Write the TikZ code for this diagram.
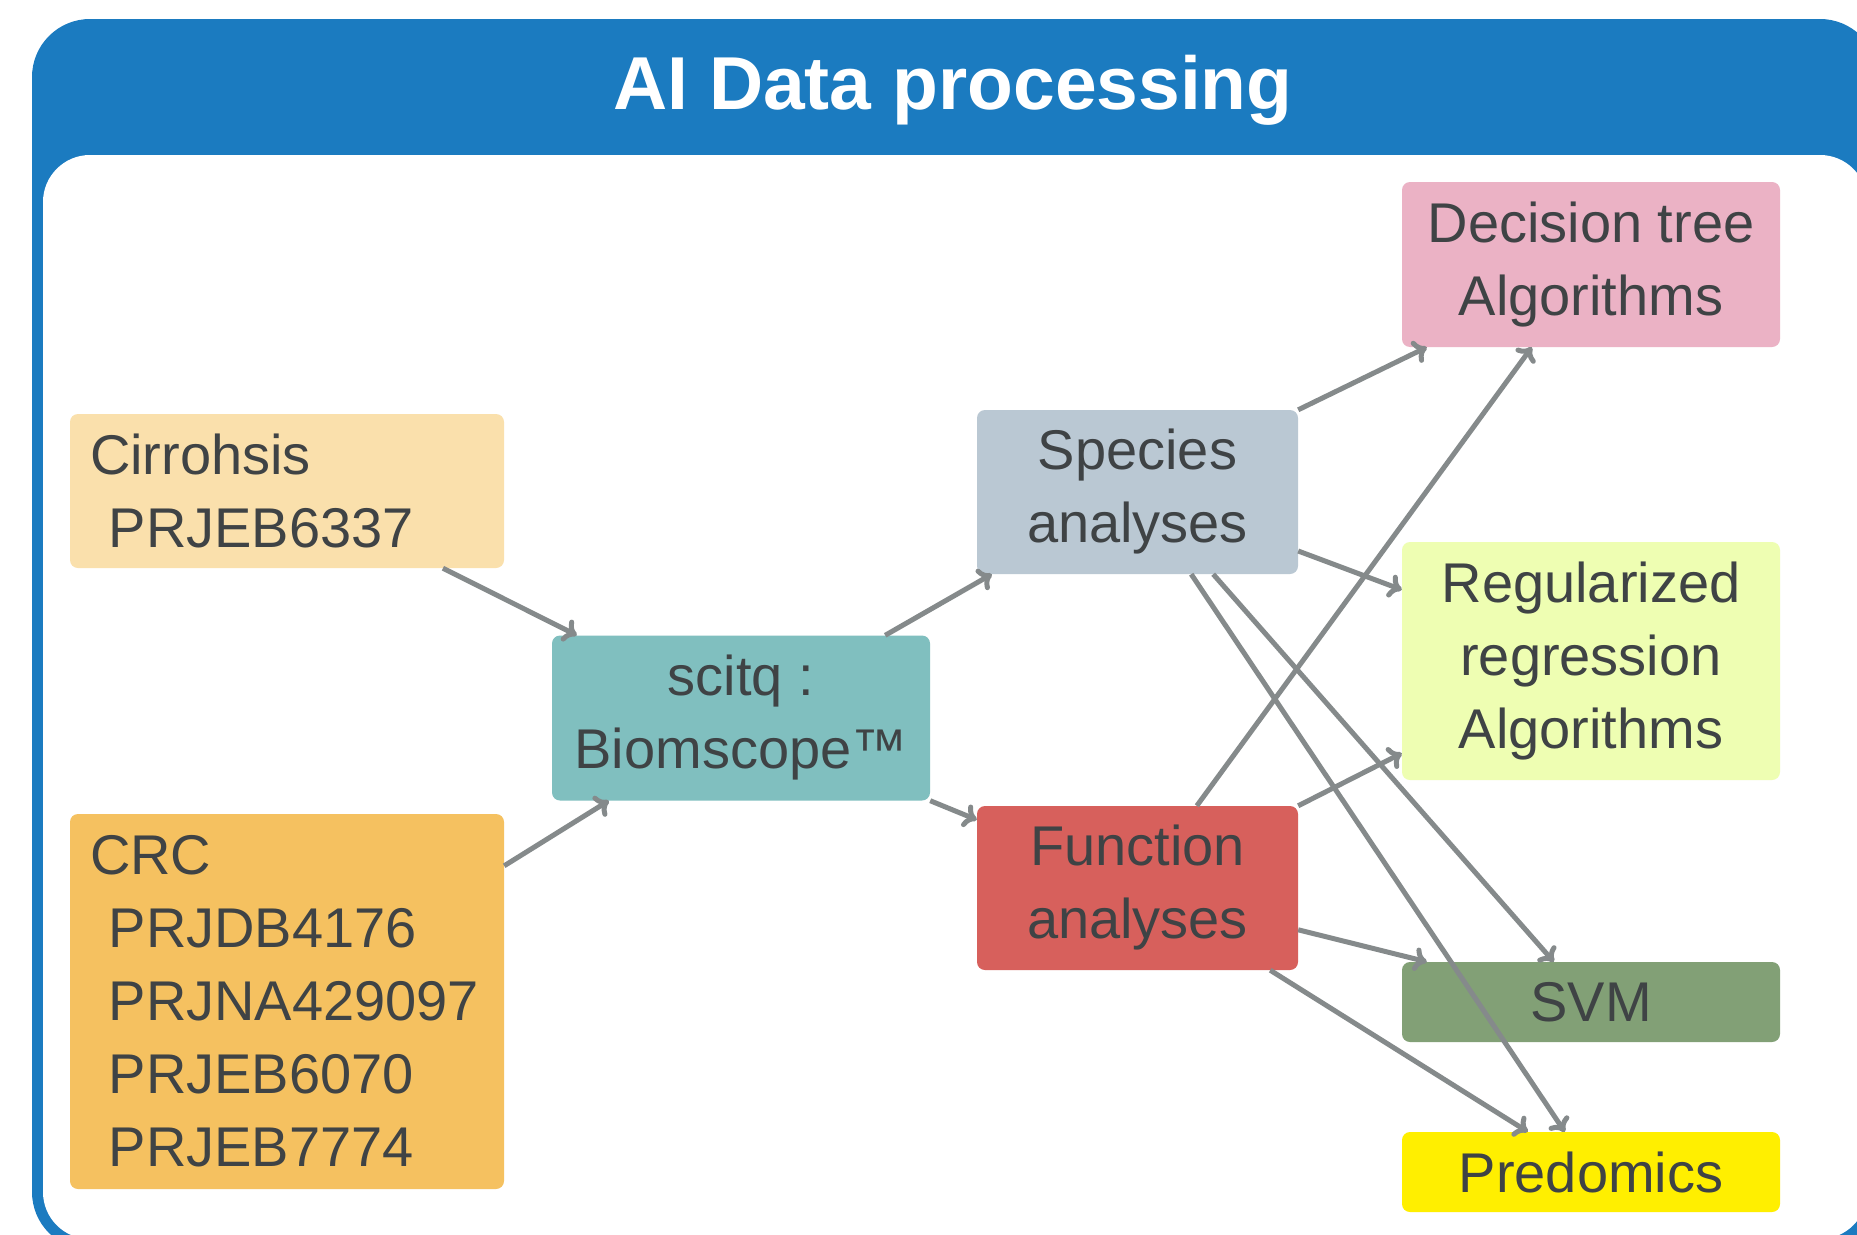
\documentclass[tikz,border=0pt]{standalone}
\usepackage{fontspec}
\setmainfont{Liberation Sans}
\usetikzlibrary{arrows.meta,calc}
\definecolor{frameblue}{HTML}{1B7BC0}
\definecolor{txtgray}{HTML}{3F4345}
\definecolor{arrgray}{HTML}{858A8B}
\definecolor{cirfill}{HTML}{FAE0AC}
\definecolor{crcfill}{HTML}{F5C160}
\definecolor{scifill}{HTML}{80BFBF}
\definecolor{spfill}{HTML}{BAC8D3}
\definecolor{fnfill}{HTML}{D7605C}
\definecolor{dtfill}{HTML}{EBB2C5}
\definecolor{rrfill}{HTML}{EEFEB2}
\definecolor{svmfill}{HTML}{82A076}
\definecolor{pdfill}{HTML}{FFEF00}
\tikzset{
  box/.style={rounded corners=8pt, inner sep=0pt, text=txtgray,
    font=\fontsize{56}{73}\selectfont, align=center},
  leftbox/.style={box, align=left, text width=394pt, inner xsep=20pt, minimum width=434pt},
  conn/.style={draw=arrgray, line width=5pt, -{To[length=13pt,width=24pt]}},
}
\begin{document}
\begin{tikzpicture}[x=1pt,y=-1pt]
\useasboundingbox (0,0) rectangle (1857,1234);
\begin{scope}
\clip (0,0) rectangle (1857,1234);
\fill[white] (0,0) rectangle (1857,1234);
\fill[frameblue, rounded corners=58pt] (32,19) rectangle (1878,1250);
\fill[white, rounded corners=47pt] (43,155) rectangle (1867,1239);
\end{scope}
\node[anchor=base, text=white, font=\fontsize{75}{90}\selectfont\bfseries] (title) at (953,109) {AI Data processing};

\node[leftbox, fill=cirfill, minimum height=154pt] (cir) at (287,491) {Cirrohsis\\~PRJEB6337};
\node[leftbox, fill=crcfill, minimum height=375pt] (crc) at (287,1001.5) {CRC\\~PRJDB4176\\~PRJNA429097\\~PRJEB6070\\~PRJEB7774};
\node[box, fill=scifill, minimum width=378pt, minimum height=165pt] (sci) at (741,718) {scitq :\\Biomscope™};
\node[box, fill=spfill, minimum width=321pt, minimum height=164pt] (sp) at (1137.5,492) {Species\\analyses};
\node[box, fill=fnfill, minimum width=321pt, minimum height=164pt] (fn) at (1137.5,888) {Function\\analyses};
\node[box, fill=dtfill, minimum width=378pt, minimum height=165pt] (dt) at (1591,264.5) {Decision tree\\Algorithms};
\node[box, fill=rrfill, minimum width=378pt, minimum height=238pt] (rr) at (1591,661) {Regularized\\regression\\Algorithms};
\node[box, fill=svmfill, minimum width=378pt, minimum height=80pt] (svm) at (1591,1002) {SVM};
\node[box, fill=pdfill, minimum width=378pt, minimum height=80pt] (pd) at (1591,1172) {Predomics};

\draw[conn] ([xshift=156pt]cir.south) -- ([xshift=25pt]sci.north west);
\draw[conn] ([yshift=-52pt]crc.north east) -- ([xshift=57pt]sci.south west);
\draw[conn] ([xshift=-45pt]sci.north east) -- ([xshift=15pt]sp.south west);
\draw[conn] (sci.south east) -- ([yshift=-14pt]fn.north west);
\draw[conn] (sp.north east) -- ([xshift=25pt]dt.south west);
\draw[conn] ([yshift=-59pt]sp.east) -- ([yshift=-48pt]rr.north west);
\draw[conn] ([xshift=-85pt]sp.south east) -- ([xshift=152pt]svm.north west);
\draw[conn] ([xshift=-107pt]sp.south east) -- ([xshift=163pt]pd.north west);
\draw[conn] ([xshift=220pt]fn.north west) -- ([xshift=130pt]dt.south west);
\draw[conn] (fn.north east) -- ([yshift=27pt]rr.south west);
\draw[conn] ([yshift=-124pt]fn.north east) -- ([xshift=25pt]svm.north west);
\draw[conn] ([xshift=-28pt]fn.south east) -- ([xshift=126pt]pd.north west);
\end{tikzpicture}
\end{document}
